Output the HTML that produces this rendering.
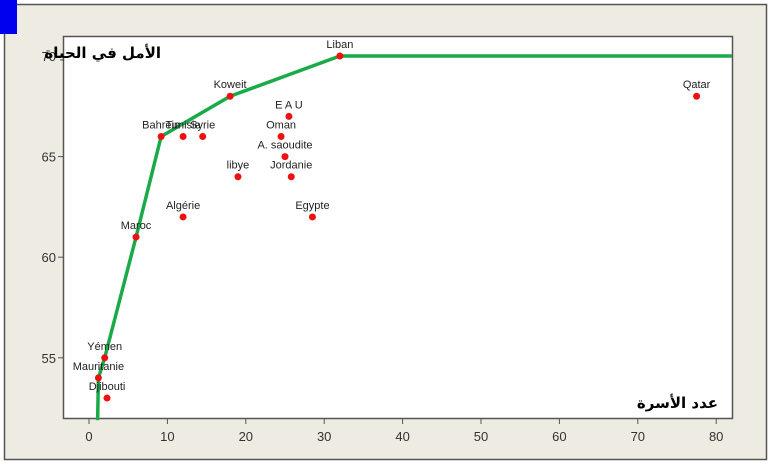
<!DOCTYPE html>
<html><head><meta charset="utf-8"><style>
body{margin:0;background:#fff;}
svg{display:block;font-family:"Liberation Sans","DejaVu Sans",sans-serif;}
</style></head><body>
<svg id="c" width="770" height="464" viewBox="0 0 770 464">
<rect x="0" y="0" width="770" height="464" fill="#ffffff"/>
<rect x="4.5" y="4.5" width="762" height="455" fill="#eeebe3" stroke="#555" stroke-width="1.5"/>
<rect x="0" y="0" width="17" height="34" fill="#0000ee"/>
<rect x="63.5" y="36.5" width="669" height="382" fill="#fff" stroke="#555" stroke-width="1.5"/>
<g id="axes"></g>
<g id="marks"></g>
<text x="161" y="58" font-size="15" font-weight="bold" text-anchor="end" font-family="'DejaVu Sans',sans-serif">الأمل في الحياة</text>
<text x="718" y="408" font-size="15" font-weight="bold" text-anchor="end" font-family="'DejaVu Sans',sans-serif">عدد الأسرة</text>
</svg>
<script>
const countries=["Liban","Koweit","Bahrein","Tunisie","Syrie","E A U","Oman","A. saoudite","Jordanie","libye","Algérie","Egypte","Maroc","Yémen","Mauritanie","Djibouti","Qatar"];
const beds=[32,18,9.2,12,14.5,25.5,24.5,25,25.8,19,12,28.5,6,2,1.2,2.3,77.5];
const life=[70,68,66,66,66,67,66,65,64,64,62,62,61,55,54,53,68];
const lineX=[1.1,1.2,2,6,9.2,18,32,82];
const lineY=[51.9,54,55,61,66,68,70,70];
const xTicks=[0,10,20,30,40,50,60,70,80];
const yTicks=[55,60,65,70];
const NS="http://www.w3.org/2000/svg";
const X=v=>89+v*7.84;
const Y=v=>56+(70-v)*20.12;
const ax=document.getElementById('axes'),mk=document.getElementById('marks');
function mkEl(t,a,p){const e=document.createElementNS(NS,t);for(const k in a)e.setAttribute(k,a[k]);p.appendChild(e);return e;}
xTicks.forEach(t=>{
 const l=mkEl('line',{x1:X(t),x2:X(t),y1:419,y2:424,stroke:'#555'},ax);
 
 
 const s=mkEl('text',{x:X(t),y:441,'font-size':13,'text-anchor':'middle',fill:'#333'},ax);
 s.textContent=t;
 
 
});
yTicks.forEach(t=>{
 const l=mkEl('line',{x1:58,x2:63,y1:Y(t),y2:Y(t),stroke:'#555'},ax);
 
 
 const s=mkEl('text',{x:56,y:Y(t)+5,'font-size':13,'text-anchor':'end',fill:'#333'},ax);
 s.textContent=t;
 
 
});
const pl=mkEl('polyline',{points:lineX.map((v,i)=>X(v)+','+Y(lineY[i])).join(' '),fill:'none',stroke:'#1aaa4a','stroke-width':3.5},mk);


countries.forEach((c,i)=>{
 const p=mkEl('circle',{cx:X(beds[i]),cy:Y(life[i]),r:3.5,fill:'#ee1111'},mk);
 
 
 const t=mkEl('text',{x:X(beds[i]),y:Y(life[i])-8,'font-size':11,'text-anchor':'middle',fill:'#222'},mk);
 t.textContent=c;
 
 
});
</script>
</body></html>
